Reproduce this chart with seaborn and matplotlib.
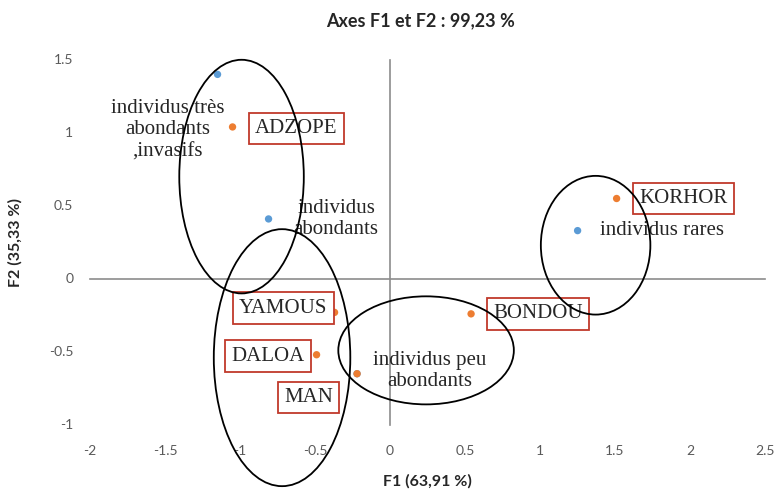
import matplotlib.pyplot as plt
import matplotlib.transforms as mtransforms
from matplotlib.patches import Ellipse
import seaborn as sns
import pandas as pd

# Variables (blue) and sites (orange) on the F1/F2 plane
var_names = ["individus très\nabondants\n,invasifs", "individus\nabondants",
             "individus rares", "individus peu\nabondants"]
var_f1 = [-1.15, -0.81, 1.25, -0.22]
var_f2 = [1.40, 0.41, 0.33, -0.65]

site_names = ["ADZOPE", "KORHOR", "BONDOU", "YAMOUS", "DALOA", "MAN"]
site_f1 = [-1.05, 1.51, 0.54, -0.37, -0.49, -0.22]
site_f2 = [1.04, 0.55, -0.24, -0.23, -0.52, -0.65]

x_ticks = [-2, -1.5, -1, -0.5, 0, 0.5, 1, 1.5, 2, 2.5]
y_ticks = [-1, -0.5, 0, 0.5, 1, 1.5]

# groupings drawn by hand on the original: (center_x, center_y, width, height)
groups = [(-0.99, 0.70, 0.83, 1.60),
          (-0.72, -0.54, 0.91, 1.76),
          (0.24, -0.49, 1.17, 0.74),
          (1.37, 0.23, 0.73, 0.95)]

# label offsets in points
var_offsets = [((-36, -40), "center"), ((18, 0), "left"), ((16, 0), "left"), ((52, 2), "center")]
site_offsets = [(46, -1), (48, 0), (48, 0), (-37, 3), (-35, -1), (-35, -17)]

df = pd.DataFrame({
    "F1": var_f1 + site_f1,
    "F2": var_f2 + site_f2,
    "kind": ["var"] * len(var_f1) + ["site"] * len(site_f1),
})

sns.set_style("white")
plt.rcParams["font.family"] = ["Lato", "DejaVu Sans"]

fig = plt.figure(figsize=(7.76, 4.9), dpi=100)
ax = fig.add_axes([0.116, 0.133, 0.870, 0.745])

sns.scatterplot(data=df, x="F1", y="F2", hue="kind",
                palette={"var": "#5B9BD5", "site": "#ED7D31"},
                s=28, edgecolor="none", legend=False, ax=ax, zorder=3)

ax.set_xlim(-2, 2.5)
ax.set_ylim(-1, 1.5)

# axes crossing at zero, Excel style
gray = "#8c8c8c"
for side in ["top", "right"]:
    ax.spines[side].set_visible(False)
ax.spines["left"].set_position(("data", 0))
ax.spines["bottom"].set_position(("data", 0))
for side in ["left", "bottom"]:
    ax.spines[side].set_color(gray)
    ax.spines[side].set_linewidth(1.2)
ax.set_xticks(x_ticks)
ax.set_yticks(y_ticks)
ax.tick_params(direction="inout", length=8, width=1.2, color=gray,
               labelleft=False, labelbottom=False)

tb = mtransforms.blended_transform_factory(ax.transData, ax.transAxes)
for t in x_ticks:
    ax.text(t, -0.055, f"{t:g}", transform=tb, ha="center", va="top",
            fontsize=10, color="#595959")
tl = mtransforms.blended_transform_factory(ax.transAxes, ax.transData)
for t in y_ticks:
    ax.text(-0.025, t, f"{t:g}", transform=tl, ha="right", va="center",
            fontsize=10, color="#595959")

serif = ["Liberation Serif", "DejaVu Serif"]
for name, x, y, (off, ha) in zip(var_names, var_f1, var_f2, var_offsets):
    ax.annotate(name, (x, y), xytext=off, textcoords="offset points",
                ha=ha, va="center", fontsize=15, family=serif,
                multialignment="center", linespacing=1.2, zorder=5)

for name, x, y, off in zip(site_names, site_f1, site_f2, site_offsets):
    ax.annotate(name, (x, y), xytext=off, textcoords="offset points",
                ha="center", va="center", fontsize=15, family=serif, zorder=5,
                bbox=dict(boxstyle="square,pad=0.3", facecolor="white",
                          edgecolor="#C0392B", linewidth=1.3))

# hand-drawn ellipses sit on top of everything
for cx, cy, w, h in groups:
    ax.add_patch(Ellipse((cx, cy), w, h, fill=False, edgecolor="black",
                         linewidth=1.3, clip_on=False, zorder=6))

ax.set_title("Axes F1 et F2 : 99,23 %", fontsize=13, fontweight="bold",
             pad=24, x=0.49)
ax.set_xlabel("F1 (63,91 %)", fontsize=11.5, fontweight="bold")
ax.set_ylabel("F2 (35,33 %)", fontsize=11.5, fontweight="bold")
ax.xaxis.set_label_coords(0.5, -0.135)
ax.yaxis.set_label_coords(-0.1, 0.5)

fig.savefig("out.png", dpi=100)
